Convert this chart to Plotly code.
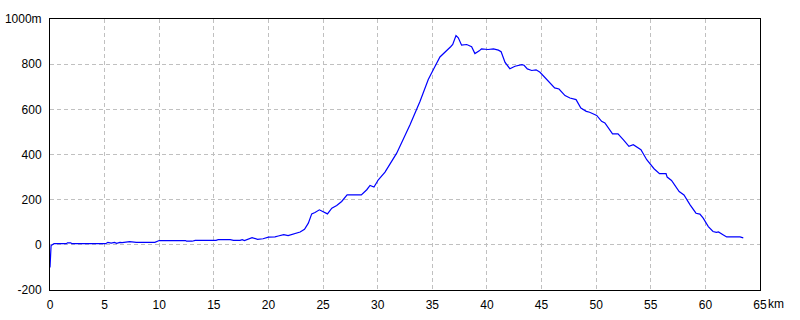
import plotly.graph_objects as go

distance_km = [0, 0.03, 0.1, 0.37, 1.5, 1.6, 1.9, 2.0, 5.1, 5.3, 5.6, 5.9, 6.1, 6.4, 6.6,
               7.3, 7.9, 9.6, 9.8, 10.0, 12.4, 12.5, 13.0, 13.3, 15.2, 15.4, 16.5, 16.8,
               17.4, 17.6, 17.8, 18.5, 19.0, 19.5, 20.0, 20.6, 20.9, 21.4, 21.8, 22.3,
               22.9, 23.3, 23.65, 23.96, 24.26, 24.66, 25.0, 25.4, 25.8, 26.25, 26.7,
               27.2, 28.5, 29.0, 29.3, 29.66, 30.06, 30.67, 31.74, 32.96, 33.87, 34.63,
               35.1, 35.7, 36.68, 36.87, 37.17, 37.38, 37.68, 38.15, 38.6, 38.9, 39.3,
               39.5, 40.1, 40.6, 41.05, 41.3, 41.66, 42.1, 42.57, 43.2, 43.4, 43.7, 44.1,
               44.5, 44.86, 45.47, 46.2, 46.6, 47.15, 47.6, 48.16, 48.6, 49.1, 49.4,
               50.05, 50.5, 50.8, 51.5, 52.0, 52.5, 53.0, 53.4, 53.7, 54.1, 54.63, 55.3,
               55.8, 56.4, 56.5, 56.9, 57.6, 58.04, 58.6, 59.14, 59.5, 59.8, 60.27, 60.7,
               61.0, 61.2, 61.65, 61.95, 63.17, 63.47]
elevation_m = [-100, -70, -3, 5, 5, 9, 9, 5, 5, 11, 8, 11, 7, 11, 10,
               14, 11, 11, 15, 19, 19, 16, 16, 20, 20, 23, 23, 20,
               20, 23, 19, 32, 24, 27, 34, 35, 39, 45, 41, 48,
               57, 69, 96, 137, 143, 155, 147, 137, 162, 174, 192,
               221, 221, 244, 263, 256, 288, 322, 406, 532, 635, 732,
               776, 832, 877, 887, 927, 917, 884, 887, 877, 847, 859,
               868, 865, 868, 862, 855, 808, 780, 791, 798, 795, 779, 772,
               775, 764, 732, 695, 690, 661, 650, 643, 606, 591, 587,
               573, 547, 540, 491, 491, 465, 436, 443, 433, 421, 377, 337,
               315, 315, 300, 285, 236, 221, 177, 140, 136, 118, 81, 59,
               55, 57, 44, 35, 35, 31]

x_ticks = [0, 5, 10, 15, 20, 25, 30, 35, 40, 45, 50, 55, 60, 65]
x_ticktext = ["0", "5", "10", "15", "20", "25", "30", "35", "40", "45", "50", "55", "60", "65"]
y_ticks = [-200, 0, 200, 400, 600, 800, 1000]
y_ticktext = ["-200", "0", "200", "400", "600", "800", "1000m"]

fig = go.Figure()
fig.add_trace(go.Scatter(x=distance_km, y=elevation_m, mode="lines",
                         line=dict(color="#0000ff", width=1.2), hoverinfo="skip"))

axis_common = dict(showline=True, linecolor="black", linewidth=1, mirror=True,
                   showgrid=True, gridcolor="#c0c0c0", griddash="4px,3px", gridwidth=1,
                   zeroline=False, ticks="", automargin=False,
                   tickfont=dict(family="Liberation Sans", size=12, color="black"))

fig.update_layout(
    width=800, height=320,
    margin=dict(l=50, r=40, t=19, b=30),
    paper_bgcolor="white", plot_bgcolor="white",
    showlegend=False,
    xaxis=dict(range=[0, 65], tickvals=x_ticks, ticktext=x_ticktext, ticklabelstandoff=4, **axis_common),
    yaxis=dict(range=[-200, 1000], tickvals=y_ticks, ticktext=y_ticktext, ticklabelstandoff=5, **axis_common),
    annotations=[dict(text="km", xref="paper", yref="paper", x=1.0, y=0, xanchor="left", yanchor="top",
                      xshift=6, yshift=-5, showarrow=False,
                      font=dict(family="Liberation Sans", size=12, color="black"))],
)

fig.write_html("out.html")
